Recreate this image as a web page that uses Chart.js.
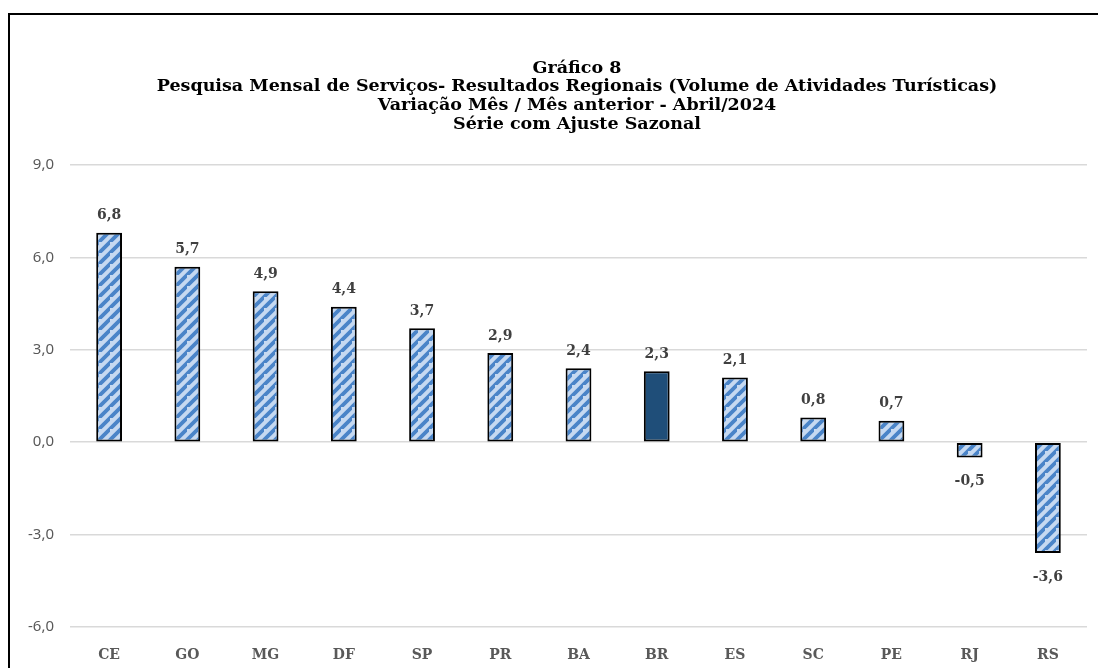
<!DOCTYPE html>
<html>
<head>
<meta charset="utf-8">
<script src="https://cdn.jsdelivr.net/npm/chart.js@4.4.0/dist/chart.umd.min.js"></script>
<style>
    body { margin: 0; background: #fff; }
    #wrap { position: relative; width: 1098px; height: 668px; overflow: hidden; }
    #frame {
        position: absolute; left: 8px; top: 13px;
        width: 1200px; height: 800px;
        border: 2px solid #000;
    }
    canvas { position: absolute; left: 0; top: 0; }
</style>
</head>
<body>
<div id="wrap">
    <div id="frame"></div>
    <canvas id="chart" width="1098" height="668"></canvas>
</div>
<script>
// Data
const categories = ['CE', 'GO', 'MG', 'DF', 'SP', 'PR', 'BA', 'BR', 'ES', 'SC', 'PE', 'RJ', 'RS'];
const values = [6.8, 5.7, 4.9, 4.4, 3.7, 2.9, 2.4, 2.3, 2.1, 0.8, 0.7, -0.5, -3.6];
const yTicks = [-6, -3, 0, 3, 6, 9];
const titleLines = [
    'Gráfico 8',
    'Pesquisa Mensal de Serviços- Resultados Regionais (Volume de Atividades Turísticas)',
    'Variação Mês / Mês anterior - Abril/2024',
    'Série com Ajuste Sazonal'
];

const serif = '"DejaVu Serif", serif';
const fmt = v => v.toFixed(1).replace('.', ',');

// Striped fill used for the states, Brazil gets the solid navy
const makeStripes = () => {
    const s = 11;
    const tile = document.createElement('canvas');
    tile.width = s;
    tile.height = s;
    const t = tile.getContext('2d');
    t.fillStyle = '#c6d9f1';
    t.fillRect(0, 0, s, s);
    t.strokeStyle = '#4a84c8';
    t.lineWidth = 3.8;
    t.beginPath();
    t.moveTo(-s, s * 2); t.lineTo(s * 2, -s);
    t.moveTo(-s * 2, s); t.lineTo(s, -s * 2);
    t.moveTo(0, s * 2); t.lineTo(s * 2, 0);
    t.stroke();
    return t.createPattern(tile, 'repeat');
};

const ctx = document.getElementById('chart').getContext('2d');
const stripes = makeStripes();
const fills = categories.map(c => c === 'BR' ? '#1f4e79' : stripes);

// Title and value labels drawn by hand
const textPlugin = {
    id: 'texts',
    afterDatasetsDraw(chart) {
        const c = chart.ctx;
        c.save();
        c.fillStyle = '#000';
        c.textAlign = 'center';
        c.textBaseline = 'middle';
        c.font = 'bold 17.5px ' + serif;
        titleLines.forEach((line, i) => {
            c.fillText(line, 577, 68 + i * 18.7);
        });

        const meta = chart.getDatasetMeta(0);
        c.fillStyle = '#404040';
        c.font = 'bold 14px ' + serif;
        meta.data.forEach((bar, i) => {
            const v = values[i];
            const y = v >= 0 ? bar.y - 17 : bar.y + 24;
            c.fillText(fmt(v), bar.x, y);
        });
        c.restore();
    }
};

new Chart(ctx, {
    type: 'bar',
    data: {
        labels: categories,
        datasets: [{
            data: values,
            backgroundColor: fills,
            borderColor: '#000',
            borderWidth: 2,
            borderSkipped: false,
            barPercentage: 0.33,
            categoryPercentage: 1
        }]
    },
    options: {
        responsive: false,
        animation: false,
        layout: {
            padding: { left: 8, top: 165, right: 11, bottom: 0 }
        },
        plugins: {
            legend: { display: false },
            title: { display: false },
            tooltip: { enabled: false }
        },
        scales: {
            x: {
                grid: { display: false },
                border: { display: false },
                ticks: {
                    color: '#595959',
                    font: { family: serif, size: 14, weight: 'bold' },
                    padding: 12
                },
                afterFit: scale => { scale.height = 41; }
            },
            y: {
                min: -6,
                max: 9,
                afterBuildTicks: scale => {
                    scale.ticks = yTicks.map(v => ({ value: v }));
                },
                grid: {
                    color: '#d9d9d9',
                    lineWidth: 1.5,
                    drawTicks: false
                },
                border: { display: false },
                ticks: {
                    color: '#595959',
                    font: { family: '"Noto Sans", sans-serif', size: 15 },
                    padding: 16,
                    callback: v => fmt(v)
                },
                afterFit: scale => { scale.width = 62; }
            }
        }
    },
    plugins: [textPlugin]
});
</script>
</body>
</html>
